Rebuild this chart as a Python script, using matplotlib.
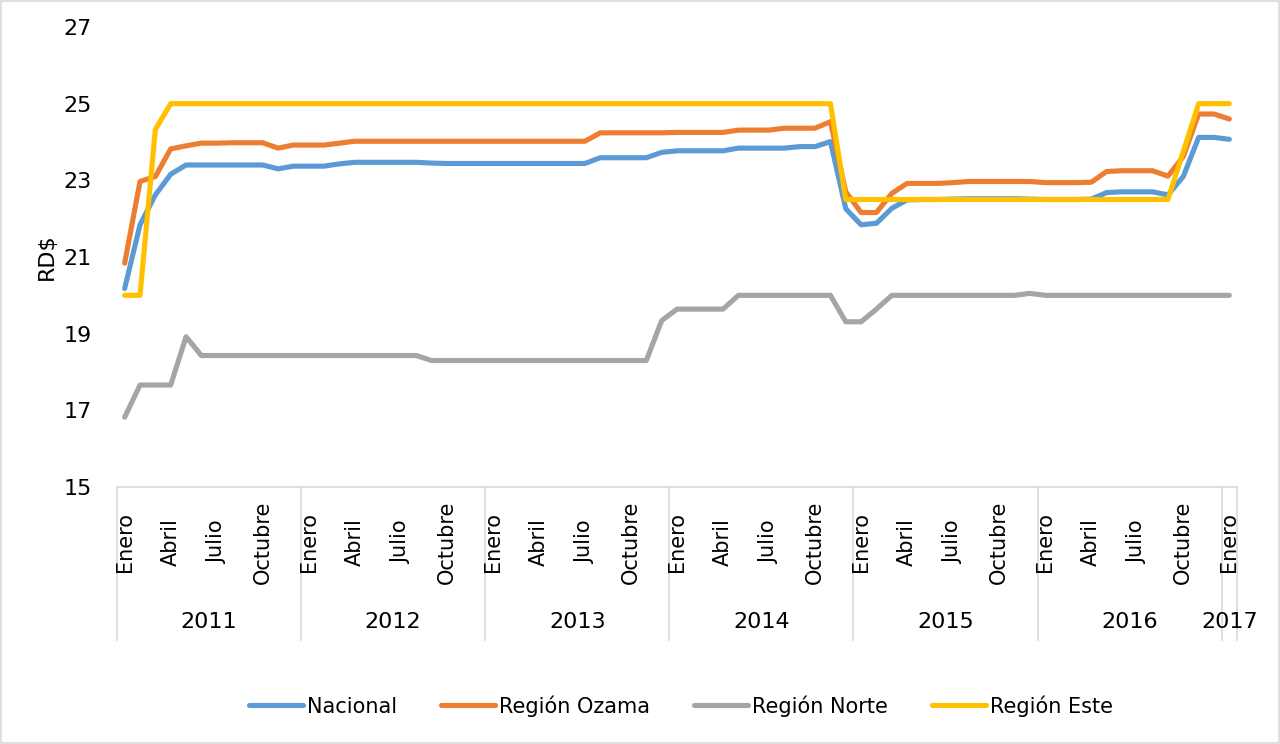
import matplotlib
matplotlib.use("Agg")
import matplotlib.pyplot as plt
from matplotlib.lines import Line2D
from matplotlib.patches import Rectangle
import matplotlib.transforms as mtransforms

plt.rcParams['font.family'] = ['DejaVu Sans']

years = ["2011", "2012", "2013", "2014", "2015", "2016", "2017"]
months_per_year = [12, 12, 12, 12, 12, 12, 1]
month_labels = {0: "Enero", 3: "Abril", 6: "Julio", 9: "Octubre"}

nacional = [20.18, 21.84, 22.62, 23.16, 23.40, 23.40, 23.40, 23.40, 23.40, 23.40, 23.30, 23.37,
            23.37, 23.37, 23.43, 23.47, 23.47, 23.47, 23.47, 23.47, 23.45, 23.44, 23.44, 23.44,
            23.44, 23.44, 23.44, 23.44, 23.44, 23.44, 23.44, 23.59, 23.59, 23.59, 23.59, 23.73,
            23.77, 23.77, 23.77, 23.77, 23.84, 23.84, 23.84, 23.84, 23.88, 23.88, 24.01, 22.26,
            21.84, 21.88, 22.27, 22.49, 22.50, 22.50, 22.51, 22.52, 22.52, 22.52, 22.52, 22.51,
            22.50, 22.50, 22.50, 22.51, 22.68, 22.70, 22.70, 22.70, 22.62, 23.10, 24.12, 24.12,
            24.07]
ozama = [20.84, 22.97, 23.10, 23.82, 23.90, 23.97, 23.97, 23.98, 23.98, 23.98, 23.84, 23.92,
         23.92, 23.92, 23.97, 24.02, 24.02, 24.02, 24.02, 24.02, 24.02, 24.02, 24.02, 24.02,
         24.02, 24.02, 24.02, 24.02, 24.02, 24.02, 24.02, 24.24, 24.24, 24.24, 24.24, 24.24,
         24.25, 24.25, 24.25, 24.25, 24.31, 24.31, 24.31, 24.36, 24.36, 24.36, 24.53, 22.70,
         22.16, 22.16, 22.66, 22.92, 22.92, 22.92, 22.94, 22.97, 22.97, 22.97, 22.97, 22.97,
         22.94, 22.94, 22.94, 22.95, 23.23, 23.25, 23.25, 23.25, 23.11, 23.62, 24.73, 24.73,
         24.60]
norte = [16.82, 17.66, 17.66, 17.66, 18.92, 18.43, 18.43, 18.43, 18.43, 18.43, 18.43, 18.43,
         18.43, 18.43, 18.43, 18.43, 18.43, 18.43, 18.43, 18.43, 18.30, 18.30, 18.30, 18.30,
         18.30, 18.30, 18.30, 18.30, 18.30, 18.30, 18.30, 18.30, 18.30, 18.30, 18.30, 19.34,
         19.64, 19.64, 19.64, 19.64, 20.00, 20.00, 20.00, 20.00, 20.00, 20.00, 20.00, 19.31,
         19.31, 19.64, 20.00, 20.00, 20.00, 20.00, 20.00, 20.00, 20.00, 20.00, 20.00, 20.05,
         20.00, 20.00, 20.00, 20.00, 20.00, 20.00, 20.00, 20.00, 20.00, 20.00, 20.00, 20.00,
         20.00]
este = [20.0, 20.0, 24.33] + [25.0] * 44 + [22.5] * 22 + [23.75, 25.0, 25.0, 25.0]

series_names = ["Nacional", "Región Ozama", "Región Norte", "Región Este"]
series_colors = ["#5B9BD5", "#ED7D31", "#A5A5A5", "#FFC000"]
series_values = [nacional, ozama, norte, este]

yticks = [15, 17, 19, 21, 23, 25, 27]

W, H = 1280, 744
fig = plt.figure(figsize=(W / 100, H / 100), dpi=100)
fig.patches.append(Rectangle((0.001, 0.001), 0.998, 0.997, transform=fig.transFigure,
                             fill=False, edgecolor="#d9d9d9", linewidth=1.2))

left, right, top, bottom = 117, 1237, 27, 487
ax = fig.add_axes([left / W, 1 - bottom / H, (right - left) / W, (bottom - top) / H])

n = len(nacional)
x = list(range(n))
handles = []
for name, col, vals in zip(series_names, series_colors, series_values):
    h, = ax.plot(x, vals, color=col, lw=3.7, solid_capstyle='round', solid_joinstyle='round',
                 label=name, zorder=3)
    handles.append(h)

ax.set_xlim(-0.5, n - 0.5)
ax.set_ylim(15, 27)
ax.set_yticks(yticks)
ax.set_yticklabels([str(v) for v in yticks], fontsize=16, color="#000000")
ax.tick_params(axis='y', length=0, pad=18)
ax.set_xticks([])
for s in ["left", "right", "top"]:
    ax.spines[s].set_visible(False)
ax.spines["bottom"].set_color("#d9d9d9")
ax.spines["bottom"].set_linewidth(1.2)
ax.set_ylabel("RD$", fontsize=16, labelpad=5)

trans = mtransforms.blended_transform_factory(ax.transData, ax.transAxes)
axh = bottom - top
month_y = -(542 - bottom) / axh
year_y = -(622 - bottom) / axh
sep_bottom = -(640 - bottom) / axh

start = 0
bounds = [-0.5]
for yr, cnt in zip(years, months_per_year):
    for m, lab in month_labels.items():
        if m < cnt:
            ax.text(start + m, month_y, lab, transform=trans, rotation=90, ha='center',
                    va='center', fontsize=15)
    ax.text(start + (cnt - 1) / 2, year_y, yr, transform=trans, ha='center', va='center',
            fontsize=16)
    start += cnt
    bounds.append(start - 0.5)
for b in bounds:
    ax.add_line(Line2D([b, b], [0, sep_bottom], transform=trans, color="#d9d9d9",
                       lw=1.2, clip_on=False))

fig.legend(handles=handles, loc='center', bbox_to_anchor=(681 / W, 1 - 706 / H), ncol=4,
           frameon=False, fontsize=15, handlelength=2.6, handletextpad=0.2,
           columnspacing=2.1)

fig.savefig("out.png", dpi=100)
